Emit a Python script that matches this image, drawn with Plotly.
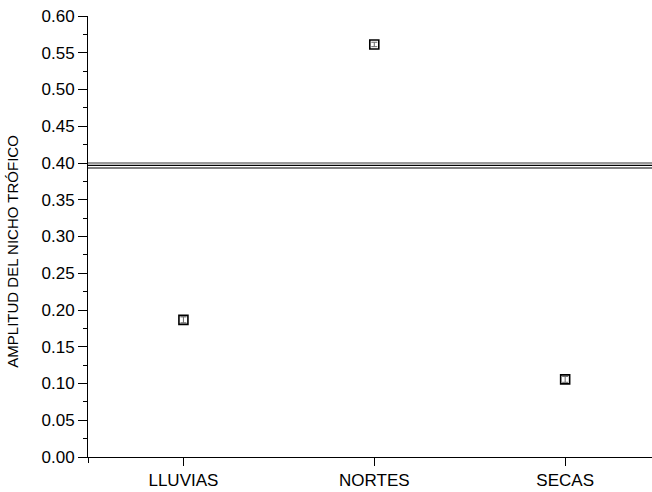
import plotly.graph_objects as go

categories = ["LLUVIAS", "NORTES", "SECAS"]
values = [0.1866, 0.5613, 0.1056]
errors = [0.004, 0.003, 0.004]
ref_lines = [0.4000, 0.3968, 0.3932]
ref_colors = ["#777777", "#000000", "#555555"]
yticks = [0.00, 0.05, 0.10, 0.15, 0.20, 0.25, 0.30, 0.35, 0.40, 0.45, 0.50, 0.55, 0.60]
y_title = "AMPLITUD DEL NICHO TRÓFICO"

font = "Arial, Liberation Sans, sans-serif"

fig = go.Figure()
fig.add_trace(go.Scatter(
    x=[0, 1, 2], y=values, mode="markers",
    marker=dict(symbol="square-open", size=9, color="black", line=dict(width=1.6, color="black")),
    error_y=dict(type="data", array=errors, visible=True, color="#666666", thickness=1, width=3),
    showlegend=False,
))

for yv, c in zip(ref_lines, ref_colors):
    fig.add_shape(type="line", xref="paper", yref="y", x0=0, x1=1, y0=yv, y1=yv,
                  line=dict(color=c, width=1.3))

fig.add_annotation(
    text=y_title, xref="paper", yref="paper", x=0, y=0.4655,
    xanchor="center", yanchor="middle", xshift=-75, textangle=-90,
    showarrow=False, font=dict(size=15, family=font, color="black"),
)

fig.update_layout(
    width=652, height=492,
    margin=dict(l=88, r=0, t=15.5, b=35),
    paper_bgcolor="white", plot_bgcolor="white",
    font=dict(family=font, size=17, color="black"),
)
fig.update_xaxes(
    range=[-0.5, 2.455], tickmode="array", tickvals=[0, 1, 2], ticktext=categories,
    showline=True, linecolor="black", linewidth=1, showgrid=False, zeroline=False,
    ticks="outside", ticklen=8, tickcolor="black", tickfont=dict(size=17),
    minor=dict(tickvals=[-0.5], ticks="outside", ticklen=5, tickcolor="black"),
    automargin=False, ticklabeloverflow="allow",
)
fig.update_yaxes(
    range=[0, 0.6], tickmode="array", tickvals=yticks,
    ticktext=[f"{v:.2f}" for v in yticks],
    showline=True, linecolor="black", linewidth=1, showgrid=False, zeroline=False,
    ticks="outside", ticklen=9, tickcolor="black", tickfont=dict(size=17),
    minor=dict(tickvals=[0.025 + 0.05 * i for i in range(12)], ticks="outside", ticklen=4, tickcolor="black"),
    automargin=False, ticklabeloverflow="allow",
)

fig.write_html(
    "out.html",
    config={"displayModeBar": False, "staticPlot": True},
    post_script="document.body.style.margin='0';document.body.style.overflow='hidden';",
)
